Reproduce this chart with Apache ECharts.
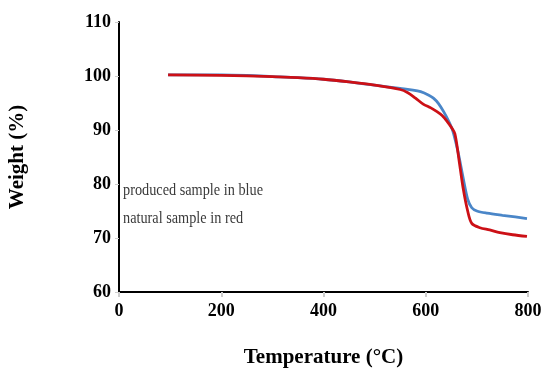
<!DOCTYPE html>
<html>
<head>
<meta charset="utf-8">
<script src="https://cdn.jsdelivr.net/npm/echarts@6/dist/echarts.min.js"></script>
<style>
  html, body { margin: 0; padding: 0; background: #fff; }
  #chart { width: 547px; height: 371px; }
</style>
</head>
<body>
<div id="chart"></div>
<script>
// TGA curves: [temperature, weight %]
const producedBlue = [
  [96, 100.2], [200, 100.2], [250, 100.1], [300, 99.9], [350, 99.7], [400, 99.4],
  [450, 98.9], [500, 98.3], [550, 97.7], [575, 97.4], [590, 97.1], [605, 96.5],
  [615, 95.9], [625, 94.9], [635, 93.4], [645, 91.6], [653, 89.8], [663, 86.0],
  [673, 81.2], [682, 77.2], [690, 75.6], [700, 75.0], [720, 74.6], [750, 74.2],
  [775, 73.9], [798, 73.6]
];
const naturalRed = [
  [96, 100.2], [200, 100.1], [300, 99.9], [350, 99.7], [400, 99.4], [450, 98.9],
  [500, 98.3], [550, 97.5], [565, 96.9], [580, 95.9], [595, 94.8], [610, 94.1],
  [622, 93.4], [632, 92.7], [641, 91.7], [650, 90.5], [657, 89.3], [665, 84.5],
  [673, 79.3], [682, 75.0], [690, 72.7], [706, 71.9], [725, 71.5], [745, 71.0],
  [770, 70.6], [798, 70.3]
];
const xTicks = [0, 200, 400, 600, 800];
const yTicks = [60, 70, 80, 90, 100, 110];
const notes = ['produced sample in blue', 'natural sample in red'];

const chart = echarts.init(document.getElementById('chart'));

const tickFont = {
  fontFamily: 'Liberation Serif',
  fontWeight: 'bold',
  fontSize: 18,
  color: '#000'
};
const nameFont = {
  fontFamily: 'Liberation Serif',
  fontWeight: 'bold',
  fontSize: 21,
  color: '#000'
};

const option = {
  animation: false,
  // keep the plot box where the picture has it (no auto shrink for labels)
  grid: { left: 119, right: 19, top: 22, bottom: 79, outerBoundsMode: 'none' },
  xAxis: {
    type: 'value',
    min: xTicks[0],
    max: xTicks[xTicks.length - 1],
    interval: 200,
    name: 'Temperature (°C)',
    nameLocation: 'middle',
    nameGap: 55,
    nameTextStyle: nameFont,
    axisLine: { lineStyle: { color: '#000', width: 2 } },
    axisTick: { show: true, length: 5, lineStyle: { color: '#ccc', width: 2 } },
    axisLabel: Object.assign({ margin: 10 }, tickFont),
    splitLine: { show: false }
  },
  yAxis: {
    type: 'value',
    min: yTicks[0],
    max: yTicks[yTicks.length - 1],
    interval: 10,
    name: 'Weight (%)',
    nameLocation: 'middle',
    nameGap: 91,
    nameRotate: 90,
    nameTextStyle: nameFont,
    axisLine: { show: true, lineStyle: { color: '#000', width: 2 } },
    axisTick: { show: true, length: 4, lineStyle: { color: '#ccc', width: 1 } },
    axisLabel: Object.assign({ margin: 8 }, tickFont),
    splitLine: { show: false }
  },
  graphic: [
    {
      type: 'text', x: 123, y: 182, scaleX: 0.84,
      style: { text: notes[0], font: '17px "Liberation Serif"', fill: '#3a3a3a' }
    },
    {
      type: 'text', x: 123, y: 210, scaleX: 0.84,
      style: { text: notes[1], font: '17px "Liberation Serif"', fill: '#3a3a3a' }
    }
  ],
  series: [
    {
      name: 'produced',
      type: 'line',
      data: producedBlue,
      smooth: 0.3,
      symbol: 'none',
      lineStyle: { color: '#4a86c8', width: 2.8 }
    },
    {
      name: 'natural',
      type: 'line',
      data: naturalRed,
      smooth: 0.3,
      symbol: 'none',
      lineStyle: { color: '#cc1016', width: 2.8 }
    }
  ]
};

chart.setOption(option);
</script>
</body>
</html>
